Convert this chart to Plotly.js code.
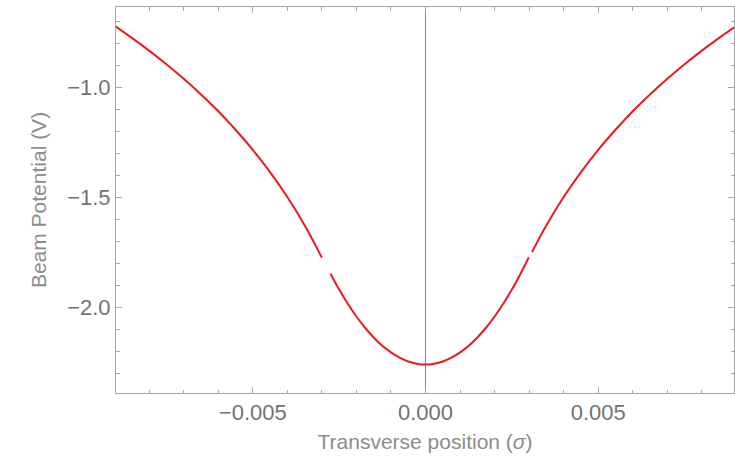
<!DOCTYPE html>
<html>
<head>
<meta charset="utf-8">
<script src="https://cdn.plot.ly/plotly-3.0.1.min.js"></script>
<style>html,body{margin:0;padding:0;background:#fff;}#chart{width:735px;height:464px;}</style>
</head>
<body>
<div id="chart"></div>
<script>
// Transverse position (units of sigma) and beam potential (V), read (and visually smoothed) from the picture.
// null marks the small breaks in the drawn curve.
var positions = [
  -0.0090, -0.0085, -0.0080, -0.0075, -0.0070, -0.0065, -0.0060, -0.0055, -0.0050, -0.0045, -0.0040, -0.0035, -0.0030,
  null,
  -0.00275, -0.0025, -0.00225, -0.0020, -0.00175, -0.0015, -0.00125, -0.0010, -0.00075, -0.0005, -0.00025, 0.0,
  0.00025, 0.0005, 0.00075, 0.0010, 0.00125, 0.0015, 0.00175, 0.0020, 0.00225, 0.0025, 0.00275, 0.00299,
  null,
  0.00308, 0.0035, 0.0040, 0.0045, 0.0050, 0.0055, 0.0060, 0.0065, 0.0070, 0.0075, 0.0080, 0.0085, 0.0090];
var potentials = [
  -0.721, -0.776, -0.834, -0.896, -0.962, -1.033, -1.109, -1.193, -1.284, -1.385, -1.498, -1.626, -1.773,
  null,
  -1.846, -1.918, -1.982, -2.040, -2.091, -2.135, -2.173, -2.203, -2.227, -2.244, -2.254, -2.258,
  -2.254, -2.244, -2.227, -2.203, -2.173, -2.135, -2.091, -2.040, -1.982, -1.918, -1.846, -1.771,
  null,
  -1.748, -1.626, -1.498, -1.385, -1.284, -1.193, -1.109, -1.033, -0.962, -0.896, -0.834, -0.776, -0.721];

var xTickVals = [-0.005, 0, 0.005];
var xTickText = ['\u22120.005', '0.000', '0.005'];
var yTickVals = [-2.0, -1.5, -1.0];
var yTickText = ['\u22122.0', '\u22121.5', '\u22121.0'];

var trace = {
  x: positions, y: potentials, type: 'scatter', mode: 'lines',
  connectgaps: false,
  line: {color: 'rgb(235,26,34)', width: 2, shape: 'spline', smoothing: 1},
  hoverinfo: 'skip'
};

var frameColor = '#a8a8a8';
var textColor = '#737373';
var titleColor = '#8c8c8c';
var layout = {
  width: 735, height: 464,
  margin: {l: 116, r: 1, t: 7, b: 71, pad: 0},
  paper_bgcolor: '#fff', plot_bgcolor: '#fff',
  showlegend: false,
  font: {family: 'Liberation Sans, Arial, sans-serif', size: 21, color: textColor},
  xaxis: {
    range: [-0.00896, 0.00893],
    showgrid: false,
    zeroline: true, zerolinecolor: '#8a8a8a', zerolinewidth: 1,
    showline: true, linecolor: frameColor, linewidth: 1, mirror: 'ticks',
    ticks: 'inside', ticklen: 6, tickcolor: frameColor, tickwidth: 1,
    tickmode: 'array', tickvals: xTickVals, ticktext: xTickText,
    tickfont: {size: 22, color: textColor},
    minor: {dtick: 0.001, tick0: 0, ticks: 'inside', ticklen: 3.5, tickcolor: frameColor, showgrid: false},
    title: {text: 'Transverse position (<i>\u03c3</i>)', font: {size: 21, color: titleColor}, standoff: 9}
  },
  yaxis: {
    range: [-2.387, -0.636],
    showgrid: false, zeroline: false,
    showline: true, linecolor: frameColor, linewidth: 1, mirror: 'ticks',
    ticks: 'inside', ticklen: 6, tickcolor: frameColor, tickwidth: 1,
    tickmode: 'array', tickvals: yTickVals, ticktext: yTickText,
    tickfont: {size: 22, color: textColor},
    minor: {dtick: 0.1, tick0: 0, ticks: 'inside', ticklen: 3.5, tickcolor: frameColor, showgrid: false},
    title: {text: 'Beam Potential (V)', font: {size: 21, color: titleColor}, standoff: 14}
  }
};

Plotly.newPlot('chart', [trace], layout, {staticPlot: true, displayModeBar: false});
</script>
</body>
</html>
